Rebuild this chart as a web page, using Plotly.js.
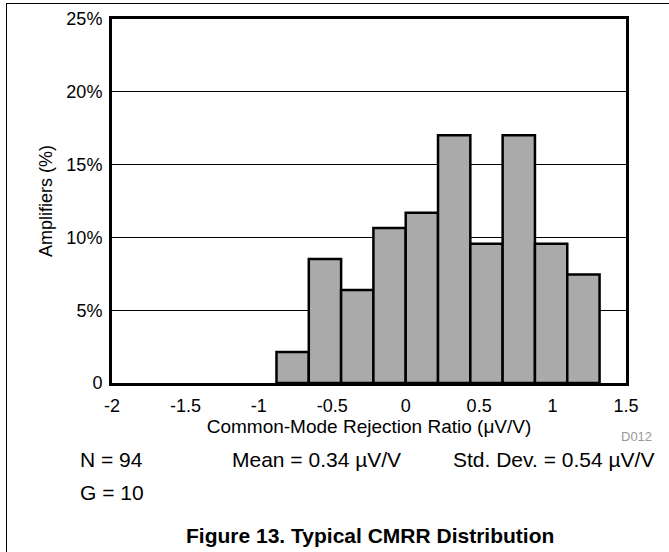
<!DOCTYPE html>
<html>
<head>
<meta charset="utf-8">
<script src="https://cdn.plot.ly/plotly-3.0.1.min.js"></script>
<style>
  html, body { margin: 0; padding: 0; background: #fff; }
  #wrap { position: relative; width: 669px; height: 552px; overflow: hidden; }
  #chart { position: absolute; left: 0; top: 0; width: 669px; height: 552px; }
  #topline { position: absolute; left: 6px; top: 3px; width: 663px; height: 1px; background: #000; }
  #leftline { position: absolute; left: 6px; top: 3px; width: 1px; height: 549px; background: #000; }
</style>
</head>
<body>
<div id="wrap">
  <div id="chart"></div>
  <div id="topline"></div>
  <div id="leftline"></div>
</div>
<script>
// Histogram bin centers (µV/V) and bin width
const binCenters = [-0.77, -0.55, -0.33, -0.11, 0.11, 0.33, 0.55, 0.77, 0.99, 1.21];
const binWidth = 0.22;
// Percent of amplifiers in each bin (N = 94)
const percents = [2.13, 8.51, 6.38, 10.64, 11.70, 17.02, 9.57, 17.02, 9.57, 7.45];

const xTickVals = [-2, -1.5, -1, -0.5, 0, 0.5, 1, 1.5];
const xTickText = ['-2', '-1.5', '-1', '-0.5', '0', '0.5', '1', '1.5'];
const yTickVals = [0, 5, 10, 15, 20, 25];
const yTickText = ['0', '5%', '10%', '15%', '20%', '25%'];

const FONT = 'Liberation Sans, Arial, sans-serif';

const trace = {
  type: 'bar',
  x: binCenters,
  y: percents,
  width: binCenters.map(() => binWidth),
  marker: { color: '#aaaaaa', line: { color: '#000000', width: 2.5 } },
  hoverinfo: 'x+y'
};

const layout = {
  width: 669,
  height: 552,
  margin: { l: 112, r: 43, t: 19, b: 169 },
  paper_bgcolor: '#ffffff',
  plot_bgcolor: '#ffffff',
  showlegend: false,
  bargap: 0,
  font: { family: FONT, color: '#000', size: 18 },
  xaxis: {
    range: [-2, 1.5],
    tickvals: xTickVals,
    ticktext: xTickText,
    showgrid: false,
    zeroline: false,
    showline: true,
    linecolor: '#000',
    linewidth: 3,
    mirror: true,
    ticks: '',
    ticklabelstandoff: 4,
    tickfont: { family: FONT, size: 18, color: '#000' },
    title: { text: 'Common-Mode Rejection Ratio (μV/V)', font: { family: FONT, size: 19, color: '#000' }, standoff: 2 }
  },
  yaxis: {
    range: [0, 25],
    tickvals: yTickVals,
    ticktext: yTickText,
    showgrid: true,
    gridcolor: '#000',
    gridwidth: 1,
    zeroline: false,
    showline: true,
    linecolor: '#000',
    linewidth: 3,
    mirror: true,
    ticks: '',
    ticklabelstandoff: 3,
    tickfont: { family: FONT, size: 18, color: '#000' },
    title: { text: 'Amplifiers (%)', font: { family: FONT, size: 18, color: '#000' }, standoff: 10 }
  },
  annotations: [
    { text: 'D012', xref: 'paper', yref: 'paper', x: (654 - 112) / 514, y: (383 - 437) / 364,
      xanchor: 'right', yanchor: 'middle', showarrow: false, font: { family: FONT, size: 13, color: '#999999' } },
    { text: 'N = 94', xref: 'paper', yref: 'paper', x: (78 - 112) / 514, y: (383 - 460) / 364,
      xanchor: 'left', yanchor: 'middle', showarrow: false, font: { family: FONT, size: 21, color: '#000' } },
    { text: 'Mean = 0.34 µV/V', xref: 'paper', yref: 'paper', x: (230 - 112) / 514, y: (383 - 460) / 364,
      xanchor: 'left', yanchor: 'middle', showarrow: false, font: { family: FONT, size: 21, color: '#000' } },
    { text: 'Std. Dev. = 0.54 µV/V', xref: 'paper', yref: 'paper', x: (656 - 112) / 514, y: (383 - 460) / 364,
      xanchor: 'right', yanchor: 'middle', showarrow: false, font: { family: FONT, size: 21, color: '#000' } },
    { text: 'G = 10', xref: 'paper', yref: 'paper', x: (78 - 112) / 514, y: (383 - 492) / 364,
      xanchor: 'left', yanchor: 'middle', showarrow: false, font: { family: FONT, size: 21, color: '#000' } },
    { text: '<b>Figure 13. Typical CMRR Distribution</b>', xref: 'paper', yref: 'paper', x: (370 - 112) / 514, y: (383 - 535) / 364,
      xanchor: 'center', yanchor: 'middle', showarrow: false, font: { family: FONT, size: 21, color: '#000' } }
  ]
};

Plotly.newPlot('chart', [trace], layout, { displayModeBar: false, staticPlot: true });
</script>
</body>
</html>
